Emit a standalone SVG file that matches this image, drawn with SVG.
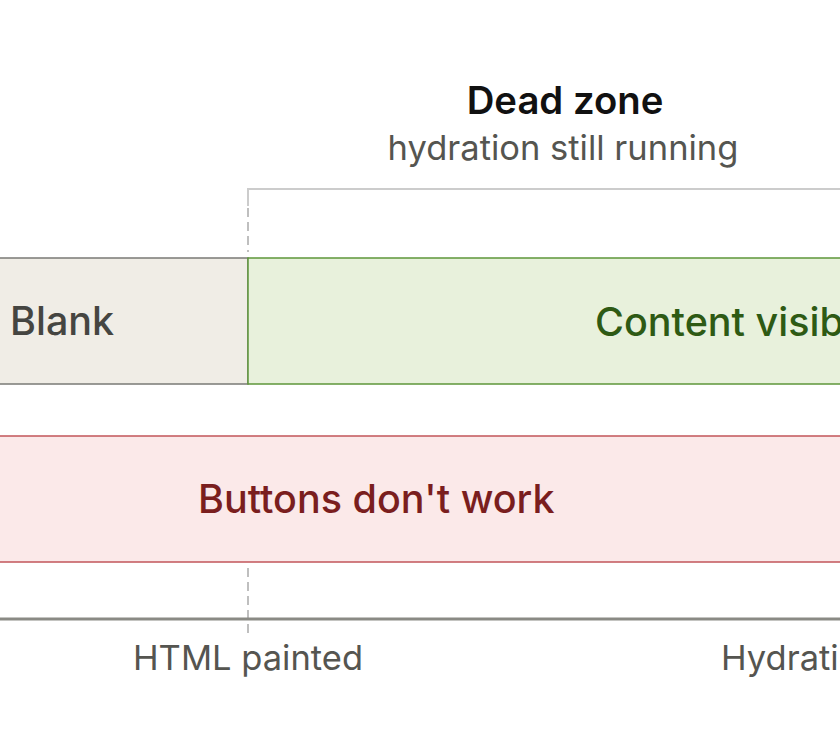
<svg xmlns="http://www.w3.org/2000/svg" width="840" height="740" viewBox="0 0 840 740">
<style>
.t{font-family:Inter,"Liberation Sans",sans-serif}
.big{font-size:39.5px;font-weight:500}
.sub{font-size:34.5px;fill:#555550}
</style>
<rect width="840" height="740" fill="#fff"/>
<g id="deadzone">
<text class="t" x="565" y="114" text-anchor="middle" font-size="38.3" font-weight="600" fill="#111">Dead zone</text>
<text class="t sub" x="563" y="160" text-anchor="middle">hydration still running</text>
</g>
<g id="connectors" fill="none">
<path d="M248,206 V189 H850" stroke="#cccccc" stroke-width="2"/>
<line x1="248" y1="208" x2="248" y2="252" stroke="#aaaaaa" stroke-width="1.5" stroke-dasharray="9 5"/>
<line x1="248" y1="568" x2="248" y2="634" stroke="#aaaaaa" stroke-width="1.5" stroke-dasharray="9 5"/>
<line x1="-5" y1="619" x2="850" y2="619" stroke="#8a8a84" stroke-width="3"/>
</g>
<g id="blank">
<rect x="-5" y="258" width="253" height="126" fill="#f0ede6" stroke="#7a7a76" stroke-width="1.5"/>
<text class="t big" x="10" y="335" fill="#454541">Blank</text>
</g>
<g id="content">
<rect x="248" y="258" width="620" height="126" fill="#e8f1dc" stroke="#5e963a" stroke-width="1.5"/>
<text class="t big" x="595" y="336" fill="#2e5a14">Content visible</text>
</g>
<g id="buttons">
<rect x="-5" y="436" width="880" height="126" fill="#fbe9e9" stroke="#c2555a" stroke-width="1.5"/>
<text class="t big" x="198" y="513" fill="#7a1e1e">Buttons don't work</text>
</g>
<g id="html-painted">
<text class="t sub" x="248" y="670" text-anchor="middle">HTML painted</text>
</g>
<g id="hydration">
<text class="t sub" x="721" y="670">Hydration complete</text>
</g>
</svg>
